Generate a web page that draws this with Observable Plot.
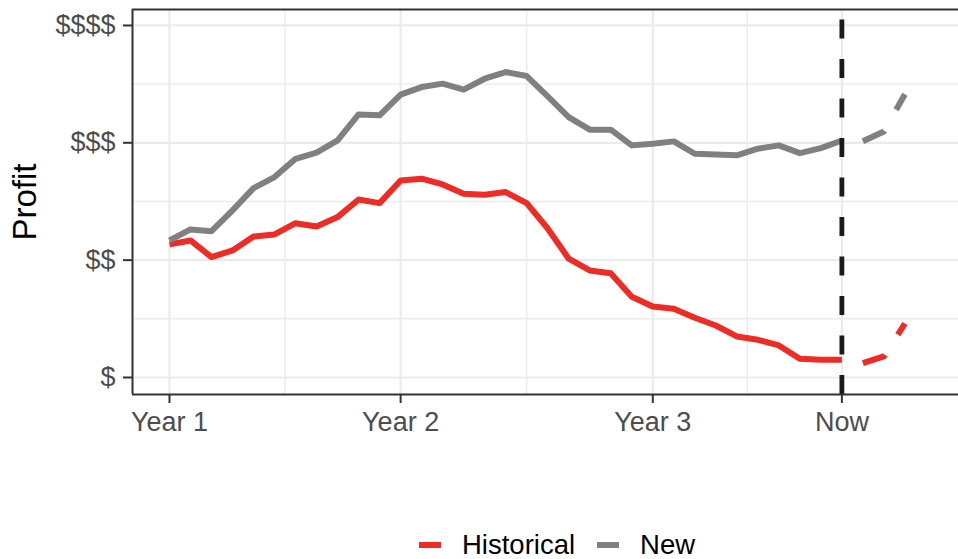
<!DOCTYPE html>
<html>
<head>
<meta charset="utf-8">
<script src="https://cdn.jsdelivr.net/npm/d3@7"></script>
<script src="https://cdn.jsdelivr.net/npm/@observablehq/plot@0.6"></script>
<style>
  body { margin: 0; background: #fff; }
  #wrap { position: relative; width: 958px; height: 559px; font-family: "Liberation Sans", Arial, sans-serif; }
  #legend { position: absolute; left: 419px; top: 530px; height: 30px; display: flex; align-items: center; font-size: 27.5px; color: #000; white-space: nowrap; }
  #legend svg { display: block; }
  .sw { margin-right: 21px; }
  .lab { margin-right: 22px; }
</style>
</head>
<body>
<div id="wrap">
  <div id="chart"></div>
  <div id="legend"></div>
</div>
<script>
// Period index (0 = Year 1, 32 = Now)
const periods = [0, 1, 2, 3, 4, 5, 6, 7, 8, 9, 10, 11, 12, 13, 14, 15, 16,
                 17, 18, 19, 20, 21, 22, 23, 24, 25, 26, 27, 28, 29, 30, 31, 32];

// Profit on the relative "$" scale (1 = $, 4 = $$$$)
const historical = [2.134, 2.168, 2.026, 2.083, 2.202, 2.219, 2.315, 2.287, 2.367, 2.517,
                    2.486, 2.679, 2.694, 2.645, 2.566, 2.558, 2.580, 2.486, 2.270, 2.012,
                    1.912, 1.889, 1.688, 1.605, 1.586, 1.509, 1.443, 1.350, 1.321, 1.273,
                    1.159, 1.151, 1.151];
const newValues = [2.168, 2.262, 2.247, 2.424, 2.614, 2.708, 2.864, 2.916, 3.020, 3.242,
                   3.234, 3.410, 3.475, 3.504, 3.453, 3.546, 3.603, 3.569, 3.396, 3.219,
                   3.112, 3.112, 2.978, 2.992, 3.012, 2.907, 2.901, 2.893, 2.950, 2.978,
                   2.912, 2.955, 3.020];

// Projection after "Now"
const forecastPeriods = [33, 34, 35];
const historicalForecast = [1.122, 1.179, 1.460];
const newForecast = [3.014, 3.097, 3.413];

const seriesNames = ["Historical", "New"];
const seriesColors = ["#ee2b25", "#808083"];

const xTicks = [0, 11, 23, 32];
const xTickLabels = ["Year 1", "Year 2", "Year 3", "Now"];
const nowPeriod = 32;

const yTicks = [1, 2, 3, 4];
const yTickLabels = ["$", "$$", "$$$", "$$$$"];

// ---- tables for the marks ----
const actual = [
  ...periods.map((p, i) => ({period: p, value: historical[i], series: "Historical"})),
  ...periods.map((p, i) => ({period: p, value: newValues[i], series: "New"}))
];
const forecast = [
  ...forecastPeriods.map((p, i) => ({period: p, value: historicalForecast[i], series: "Historical"})),
  ...forecastPeriods.map((p, i) => ({period: p, value: newForecast[i], series: "New"}))
];

const xDomain = [-1.76, 37.55];
const yDomain = [0.855, 4.136];
const xMinor = xTicks.slice(1).map((t, i) => (t + xTicks[i]) / 2);
const yMinor = yTicks.slice(1).map((t, i) => (t + yTicks[i]) / 2);

const gridColor = "#ebebeb";
const inkColor = "#333333";
const tickTextColor = "#4d4d4d";

const chart = Plot.plot({
  width: 958,
  height: 520,
  marginLeft: 132,
  marginRight: 0,
  marginTop: 9,
  marginBottom: 126,
  style: {fontFamily: "Liberation Sans, Arial, sans-serif", background: "#fff", overflow: "visible"},
  x: {domain: xDomain, label: null},
  y: {domain: yDomain, label: null},
  color: {domain: seriesNames, range: seriesColors},
  marks: [
    // minor then major grid
    Plot.gridY(yMinor, {stroke: gridColor, strokeOpacity: 1, strokeWidth: 1.4}),
    Plot.gridX(xMinor, {stroke: gridColor, strokeOpacity: 1, strokeWidth: 1.4}),
    Plot.gridY(yTicks, {stroke: gridColor, strokeOpacity: 1, strokeWidth: 2.2}),
    Plot.gridX(xTicks, {stroke: gridColor, strokeOpacity: 1, strokeWidth: 2.2}),

    // observed profit
    Plot.line(actual, {
      x: "period", y: "value", z: "series", stroke: "series",
      strokeWidth: 6, strokeLinecap: "butt", strokeLinejoin: "round"
    }),
    // projected profit
    Plot.line(forecast, {
      x: "period", y: "value", z: "series", stroke: "series",
      strokeWidth: 6, strokeLinecap: "butt", strokeLinejoin: "round",
      strokeDasharray: "24,24"
    }),

    // "Now" marker
    Plot.ruleX([nowPeriod], {
      y1: yDomain[0], y2: yDomain[1],
      stroke: "#1a1a1a", strokeWidth: 4.8, strokeDasharray: "19,20.5"
    }),

    // panel border (left, top, bottom)
    Plot.ruleY([yDomain[0], yDomain[1]], {stroke: inkColor, strokeWidth: 2}),
    Plot.ruleX([xDomain[0]], {stroke: inkColor, strokeWidth: 2}),

    // axes
    Plot.axisX(xTicks, {
      tickSize: 9, tickPadding: 8, fontSize: 27,
      tickFormat: d => xTickLabels[xTicks.indexOf(d)],
      fill: tickTextColor, stroke: inkColor, strokeWidth: 2, label: null
    }),
    Plot.axisY(yTicks, {
      tickSize: 9, tickPadding: 8, fontSize: 27,
      tickFormat: d => yTickLabels[yTicks.indexOf(d)],
      fill: tickTextColor, stroke: inkColor, strokeWidth: 2, label: null
    }),

    // axis title
    Plot.text(["Profit"], {
      text: d => d, frameAnchor: "left", textAnchor: "middle", rotate: -90, dx: -107,
      fontSize: 33, fill: "#000"
    })
  ]
});
document.getElementById("chart").appendChild(chart);

// legend with line swatches
const legend = document.getElementById("legend");
seriesNames.forEach((name, i) => {
  const sw = document.createElementNS("http://www.w3.org/2000/svg", "svg");
  sw.setAttribute("width", 22);
  sw.setAttribute("height", 8);
  sw.setAttribute("class", "sw");
  const ln = document.createElementNS("http://www.w3.org/2000/svg", "line");
  ln.setAttribute("x1", 0); ln.setAttribute("x2", 22);
  ln.setAttribute("y1", 4); ln.setAttribute("y2", 4);
  ln.setAttribute("stroke", seriesColors[i]);
  ln.setAttribute("stroke-width", 6);
  sw.appendChild(ln);
  legend.appendChild(sw);
  const lab = document.createElement("span");
  lab.textContent = name;
  if (i < seriesNames.length - 1) lab.className = "lab";
  legend.appendChild(lab);
});
</script>
</body>
</html>
